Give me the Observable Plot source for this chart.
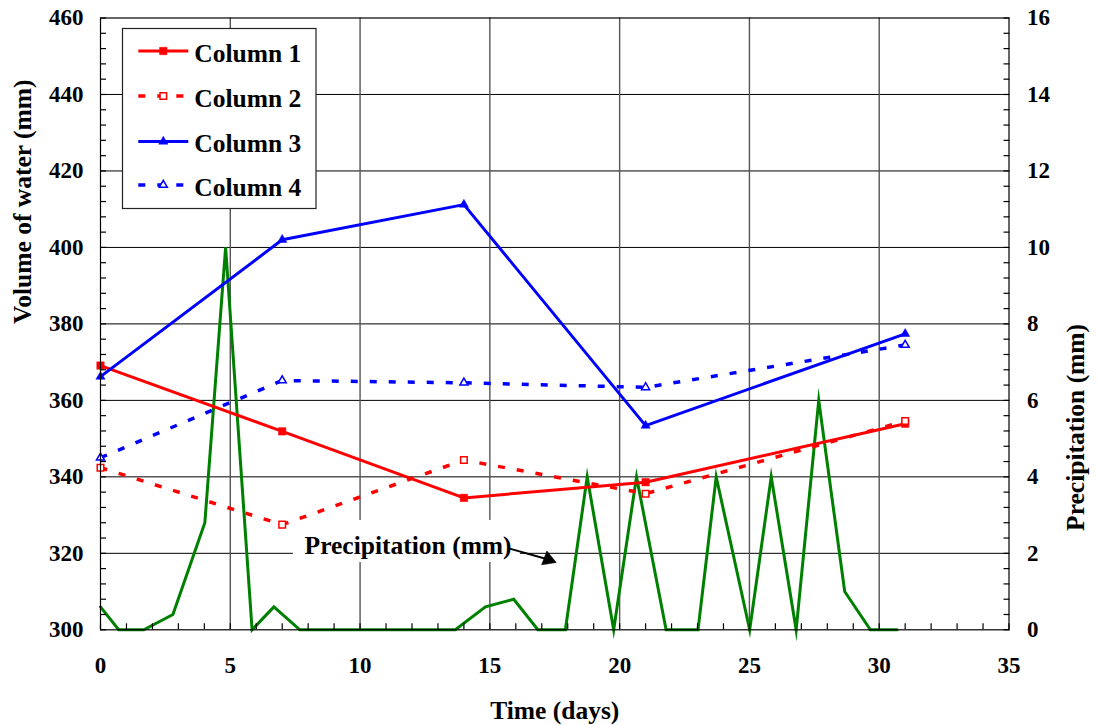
<!DOCTYPE html>
<html>
<head>
<meta charset="utf-8">
<script src="https://cdn.jsdelivr.net/npm/d3@7"></script>
<script src="https://cdn.jsdelivr.net/npm/@observablehq/plot@0.6"></script>
<style>
  body { margin: 0; background: #fff; }
  #chart svg { display: block; }
  #chart svg text { font-weight: bold; }
</style>
</head>
<body>
<div id="chart"></div>
<script>
// Sampling days for the four water-volume columns
const days = [0, 7, 14, 21, 31];

// Volume of water (mm) per column
const column1 = [369.1, 351.9, 334.5, 338.6, 353.9];
const column2 = [342.4, 327.5, 344.4, 335.6, 354.6];
const column3 = [366.2, 402.0, 411.2, 353.4, 377.4];
const column4 = [345.0, 365.2, 364.6, 363.4, 374.5];

// Daily precipitation (mm), secondary axis
const precipDays = [0, 0.70, 1.67, 2.79, 4.02, 4.82, 5.84, 6.68, 7.68, 13.67, 14.83, 15.92, 16.85, 17.91,
  18.75, 19.77, 20.65, 21.79, 23.02, 23.72, 25.01, 25.84, 26.80, 27.67, 28.67, 29.66, 30.69];
const precipMm = [0.6, 0, 0, 0.4, 2.8, 10, 0, 0.6, 0, 0, 0.6, 0.8, 0, 0,
  4, 0, 4, 0, 0, 4, 0, 4, 0, 6, 1, 0, 0];

const seriesNames = ["Column 1", "Column 2", "Column 3", "Column 4"];
const seriesColors = ["#ff0000", "#ff0000", "#0000ff", "#0000ff"];
const seriesDashed = [false, true, false, true];
const seriesSymbols = ["square", "square", "triangle", "triangle"];
const seriesFilled = [true, false, true, false];

// Axis ticks
const xTicks = [0, 5, 10, 15, 20, 25, 30, 35];
const xMinorTicks = d3.range(0, 36, 1);
const volumeTicks = [300, 320, 340, 360, 380, 400, 420, 440, 460];
const volumeMinorTicks = d3.range(300, 461, 4);
const precipTicks = [0, 2, 4, 6, 8, 10, 12, 14, 16];

// Precipitation 0–16 mm shares the frame with volume 300–460 mm
const precipToVolume = p => 300 + p * 10;
const volumeToPrecip = v => (v - 300) / 10;

// Callout for the precipitation trace
const calloutText = "Precipitation (mm)";
const calloutAt = {x: 11.85, y: 322.0};
const calloutBox = {x1: 7.43, x2: 16.18, y1: 317.6, y2: 328.6};
const calloutArrow = {x1: 15.73, y1: 321.3, x2: 17.25, y2: 318.4};

const seriesColumns = [column1, column2, column3, column4];
const volumeData = seriesNames.flatMap((name, s) =>
  days.map((day, i) => ({series: name, s, day, value: seriesColumns[s][i]}))
);
const precipData = precipDays.map((day, i) => ({day, mm: precipMm[i]}));

const font = "'Liberation Serif', 'Times New Roman', Times, serif";
const markerRadius = s => seriesSymbols[s] === "square" ? (seriesFilled[s] ? 4.2 : 3.7) : (seriesFilled[s] ? 3.4 : 3.0);

const lineMarks = seriesNames.map((name, s) =>
  Plot.line(volumeData.filter(d => d.s === s), {
    x: "day", y: "value",
    stroke: seriesColors[s],
    strokeWidth: seriesDashed[s] ? 3.5 : 3,
    strokeDasharray: seriesDashed[s] ? "7,12" : null,
    strokeLinecap: "butt",
    strokeLinejoin: "miter"
  })
);
const dotMarks = seriesNames.map((name, s) =>
  Plot.dot(volumeData.filter(d => d.s === s), {
    x: "day", y: "value",
    symbol: seriesSymbols[s],
    r: markerRadius(s),
    fill: seriesFilled[s] ? seriesColors[s] : "white",
    stroke: seriesColors[s],
    strokeWidth: seriesFilled[s] ? 0.5 : 1.5
  })
);

const bold = {fontWeight: "bold", fontSize: 23};

const plot = Plot.plot({
  width: 1099,
  height: 725,
  marginLeft: 100,
  marginRight: 90.5,
  marginTop: 17.5,
  marginBottom: 95.7,
  x: {domain: [0, 35]},
  y: {domain: [300, 460]},
  style: {fontFamily: font, fontWeight: "bold", fontSize: "23px", color: "black", background: "white", overflow: "visible"},
  marks: [
    Plot.gridY(volumeTicks.slice(1, -1), {stroke: "#000", strokeOpacity: 1, strokeWidth: 1}),
    Plot.gridX(xTicks.slice(1, -1), {stroke: "#555", strokeOpacity: 1, strokeWidth: 1.4}),
    Plot.rect([calloutBox], {x1: "x1", x2: "x2", y1: "y1", y2: "y2", fill: "white"}),
    Plot.line(precipData, {x: "day", y: d => precipToVolume(d.mm), stroke: "#008000", strokeWidth: 3, strokeLinejoin: "miter", strokeMiterlimit: 12}),
    ...lineMarks,
    ...dotMarks,
    Plot.frame({stroke: "black", strokeWidth: 1.2}),
    // minor ticks, shifted so they point into the frame
    Plot.axisY(volumeMinorTicks, {anchor: "left", tickSize: 6, dx: 6, fill: "none", label: null, strokeWidth: 1.2}),
    Plot.axisY(volumeMinorTicks, {anchor: "right", tickSize: 6, dx: -6, fill: "none", label: null, strokeWidth: 1.2}),
    Plot.axisX(xMinorTicks, {anchor: "bottom", tickSize: 6, dy: -6, fill: "none", label: null, strokeWidth: 1.2}),
    // tick labels
    Plot.axisY(volumeTicks, {anchor: "left", tickSize: 0, tickPadding: 17, label: null, ...bold}),
    Plot.axisY(precipTicks.map(precipToVolume), {anchor: "right", tickSize: 0, tickPadding: 18, label: null, tickFormat: volumeToPrecip, ...bold}),
    Plot.axisX(xTicks, {anchor: "bottom", tickSize: 0, tickPadding: 27, label: null, ...bold}),
    // axis titles
    Plot.text(["Time (days)"], {frameAnchor: "bottom", dy: 80.7, text: d => d, fontSize: 25.5, fontWeight: "bold", lineAnchor: "middle"}),
    Plot.text(["Volume of water (mm)"], {frameAnchor: "left", dx: -78, rotate: -90, text: d => d, fontSize: 25.5, fontWeight: "bold", lineAnchor: "middle"}),
    Plot.text(["Precipitation (mm)"], {frameAnchor: "right", dx: 66.5, rotate: -90, text: d => d, fontSize: 25.5, fontWeight: "bold", lineAnchor: "middle"}),
    // callout
    Plot.text([calloutAt], {x: "x", y: "y", text: () => calloutText, fontSize: 25.5, fontWeight: "bold", lineAnchor: "middle"}),
    Plot.link([calloutArrow], {x1: "x1", y1: "y1", x2: "x2", y2: "y2", stroke: "black", strokeWidth: 2}),
    Plot.dot([calloutArrow], {x: "x2", y: "y2", symbol: "triangle", r: 5.5, rotate: 111, fill: "black", stroke: "black", strokeWidth: 0.5})
  ]
});

document.getElementById("chart").append(plot);

// Legend box in the upper-left of the plot area
const svg = d3.select(plot);
const legend = svg.append("g").attr("transform", "translate(122.5,28.5)");
legend.append("rect")
  .attr("width", 193.5).attr("height", 180)
  .attr("fill", "white").attr("stroke", "#222").attr("stroke-width", 1.2);
const rowY = [22.5, 67.5, 113, 156.5];
seriesNames.forEach((name, s) => {
  const row = legend.append("g").attr("transform", `translate(0,${rowY[s]})`);
  row.append("line")
    .attr("x1", 15.8).attr("x2", 65.8).attr("y1", 0).attr("y2", 0)
    .attr("stroke", seriesColors[s]).attr("stroke-width", seriesDashed[s] ? 3.5 : 3)
    .attr("stroke-dasharray", seriesDashed[s] ? "7,12" : null);
  const r = markerRadius(s);
  const sym = seriesSymbols[s] === "square" ? d3.symbolSquare : d3.symbolTriangle;
  row.append("path")
    .attr("transform", "translate(40.8,0)")
    .attr("d", d3.symbol(sym, Math.PI * r * r)())
    .attr("fill", seriesFilled[s] ? seriesColors[s] : "white")
    .attr("stroke", seriesColors[s])
    .attr("stroke-width", seriesFilled[s] ? 0.5 : 1.5);
  row.append("text")
    .attr("x", 71.8).attr("y", 10.5)
    .attr("text-anchor", "start")
    .attr("font-size", 25.5).attr("font-weight", "bold")
    .attr("fill", "black")
    .text(name);
});
</script>
</body>
</html>
